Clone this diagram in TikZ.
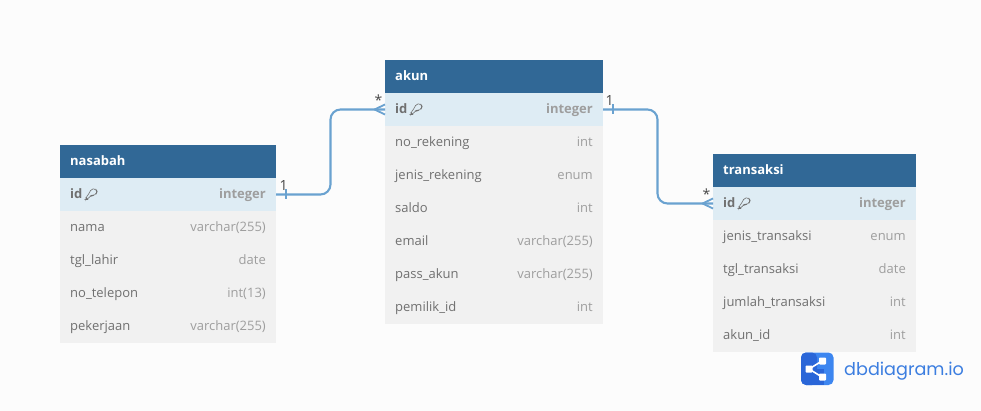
\documentclass[tikz,border=0pt]{standalone}
\usepackage{fontspec}
\setmainfont{Open Sans}
\newfontfamily\logofont{Poppins}
\usetikzlibrary{calc}
\definecolor{bgc}{HTML}{FCFCFC}
\definecolor{headc}{HTML}{316896}
\definecolor{pkc}{HTML}{DEECF4}
\definecolor{rowc}{HTML}{F1F1F1}
\definecolor{linec}{HTML}{6AA2D0}
\definecolor{namec}{HTML}{707070}
\definecolor{typec}{HTML}{9E9E9E}
\definecolor{logoa}{HTML}{2A66D8}
\definecolor{logob}{HTML}{3D86F0}
\definecolor{logot}{HTML}{3C7EE0}
\tikzset{
  x=1pt,y=-1pt,
  cellbox/.style={draw=none,inner sep=0pt,outer sep=0pt,anchor=north west,minimum height=33pt},
  headbox/.style={cellbox,fill=headc},
  pkbox/.style={cellbox,fill=pkc},
  rowbox/.style={cellbox,fill=rowc},
  headtext/.style={anchor=base west,inner sep=0pt,text=white,font=\fontsize{13}{14}\selectfont\bfseries},
  pktext/.style={anchor=base west,inner sep=0pt,text=namec,font=\fontsize{13}{14}\selectfont\bfseries},
  pktype/.style={anchor=base east,inner sep=0pt,text=typec,font=\fontsize{13}{14}\selectfont\bfseries},
  rowtext/.style={anchor=base west,inner sep=0pt,text=namec,font=\fontsize{13}{14}\selectfont},
  rowtype/.style={anchor=base east,inner sep=0pt,text=typec,font=\fontsize{13}{14}\selectfont},
  relline/.style={draw=linec,line width=2.1pt,rounded corners=10pt},
  relmark/.style={draw=linec,line width=1.8pt},
  cardtext/.style={inner sep=0pt,text=black!72,font=\fontsize{14}{15}\selectfont},
  keyicon/.style={draw=namec,line width=0.6pt},
}
\newcommand{\tablehead}[5]{% name x y w title
  \node[headbox,minimum width=#4pt] (#1) at (#2,#3) {};
  \node[headtext] (#1title) at ($(#1.north west)+(10,20.8)$) {#5};
}
\newcommand{\pkrow}[5]{% name x y w type
  \node[pkbox,minimum width=#4pt] (#1) at (#2,#3) {};
  \node[pktext] (#1name) at ($(#1.north west)+(10,20.8)$) {id};
  \node[pktype] (#1type) at ($(#1.north east)+(-10,20.8)$) {#5};
  \begin{scope}[shift={($(#1.west)+(31.5,0)$)}]
    \draw[keyicon,rounded corners=1.8pt] (-1.9,-1.8) -- (-0.3,-5.6) -- (4.2,-5.6) -- (5.6,-3) -- (4.8,-0.6) -- (1.6,1.2) -- (-0.4,0.8) -- (-4.2,5) -- (-5.6,5) -- (-5.6,3.2) -- cycle;
  \end{scope}
}
\newcommand{\fieldrow}[6]{% name x y w label type
  \node[rowbox,minimum width=#4pt] (#1) at (#2,#3) {};
  \node[rowtext] (#1name) at ($(#1.north west)+(10,20.8)$) {#5};
  \node[rowtype] (#1type) at ($(#1.north east)+(-10,20.8)$) {#6};
}
\begin{document}
\begin{tikzpicture}
\path[use as bounding box,fill=bgc] (0,0) rectangle (981,411);

% nasabah
\tablehead{nas}{60}{145}{216}{nasabah}
\pkrow{nasid}{60}{178}{216}{integer}
\fieldrow{nasa}{60}{211}{216}{nama}{varchar(255)}
\fieldrow{nasb}{60}{244}{216}{tgl\_lahir}{date}
\fieldrow{nasc}{60}{277}{216}{no\_telepon}{int(13)}
\fieldrow{nasd}{60}{310}{216}{pekerjaan}{varchar(255)}

% akun
\tablehead{aku}{385}{60}{218}{akun}
\pkrow{akuid}{385}{93}{218}{integer}
\fieldrow{akua}{385}{126}{218}{no\_rekening}{int}
\fieldrow{akub}{385}{159}{218}{jenis\_rekening}{enum}
\fieldrow{akuc}{385}{192}{218}{saldo}{int}
\fieldrow{akud}{385}{225}{218}{email}{varchar(255)}
\fieldrow{akue}{385}{258}{218}{pass\_akun}{varchar(255)}
\fieldrow{akuf}{385}{291}{218}{pemilik\_id}{int}

% transaksi
\tablehead{tra}{713}{154}{203}{transaksi}
\pkrow{traid}{713}{187}{203}{integer}
\fieldrow{traa}{713}{220}{203}{jenis\_transaksi}{enum}
\fieldrow{trab}{713}{253}{203}{tgl\_transaksi}{date}
\fieldrow{trac}{713}{286}{203}{jumlah\_transaksi}{int}
\fieldrow{trad}{713}{319}{203}{akun\_id}{int}

% relations
\draw[relline] (nasid.east) -- ++(54.5,0) |- (akuid.west);
\draw[relline] (akuid.east) -- ++(54.5,0) |- (traid.west);

% one-side ticks
\draw[relmark] ($(nasid.east)+(10,-5)$) -- ++(0,10);
\draw[relmark] ($(akuid.east)+(10,-5)$) -- ++(0,10);
% many-side crow feet
\draw[relmark] ($(akuid.west)+(-10.5,0)$) -- ($(akuid.west)+(0,-5)$);
\draw[relmark] ($(akuid.west)+(-10.5,0)$) -- ($(akuid.west)+(0,5)$);
\draw[relmark] ($(traid.west)+(-10.5,0)$) -- ($(traid.west)+(0,-5)$);
\draw[relmark] ($(traid.west)+(-10.5,0)$) -- ($(traid.west)+(0,5)$);

% cardinalities
\node[cardtext] (c1) at ($(nasid.east)+(7.5,-8.5)$) {1};
\node[cardtext] (c2) at ($(akuid.west)+(-6.5,-9)$) {*};
\node[cardtext] (c3) at ($(akuid.east)+(6.5,-8.5)$) {1};
\node[cardtext] (c4) at ($(traid.west)+(-6.5,-9)$) {*};

% logo
\begin{scope}
  \fill[logob,rounded corners=5pt] (801,352.5) rectangle (833.5,385);
  \fill[logoa,rounded corners=5pt] (801,352.5) rectangle (817,385);
  \fill[logoa] (812,368.5) rectangle (824,385);
  \draw[white,line width=1.6pt] (809,369) -- (822,361) (809,369) -- (822,377);
  \fill[white,rounded corners=0.8pt] (805.5,365.5) rectangle (812.5,372.5);
  \fill[white,rounded corners=0.8pt] (819,357.5) rectangle (826,364.5);
  \fill[white,rounded corners=0.8pt] (819,373.5) rectangle (826,380.5);
\end{scope}
\node[anchor=base west,inner sep=0pt,text=logot,font=\logofont\fontsize{17.6}{20}\selectfont] (logo) at (844,375) {dbdiagram.io};
\end{tikzpicture}
\end{document}
